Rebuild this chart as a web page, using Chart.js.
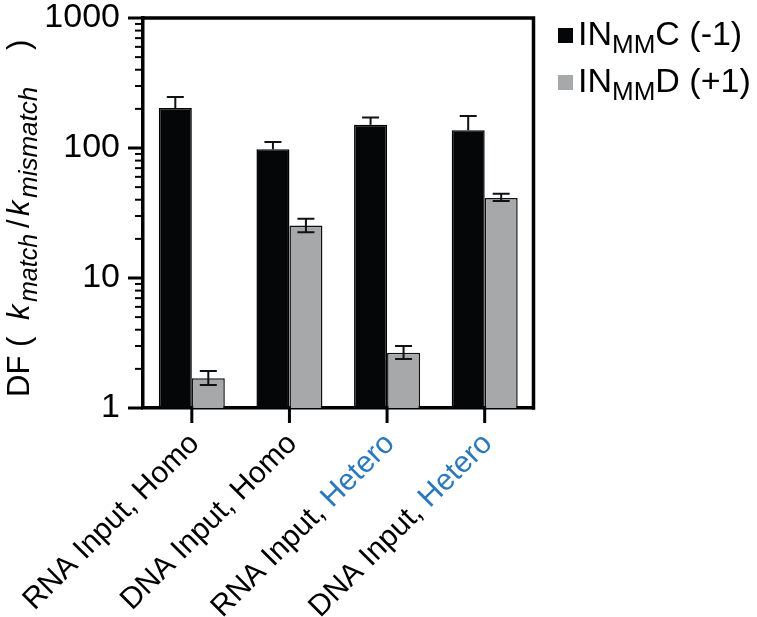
<!DOCTYPE html>
<html><head><meta charset="utf-8">
<script src="https://cdn.jsdelivr.net/npm/chart.js@4/dist/chart.umd.min.js"></script>
<style>html,body{margin:0;padding:0;background:#fff}#wrap{width:757px;height:617px;position:relative}</style>
</head><body><div id="wrap"><canvas id="c" width="757" height="617"></canvas></div>
<script>
// ---- data ----
const categoryPrefix = ["RNA Input, ", "DNA Input, ", "RNA Input, ", "DNA Input, "];
const categorySuffix = ["Homo", "Homo", "Hetero", "Hetero"];
const categories = categoryPrefix.map((p, i) => p + categorySuffix[i]);

const seriesC = ["IN", "MM", "C (-1)"];
const seriesD = ["IN", "MM", "D (+1)"];

const valuesC  = [203, 98, 151, 137];
const errHighC = [247, 111, 172, 176];

const valuesD  = [1.69, 25.3, 2.66, 41.2];
const errHighD = [1.93, 28.6, 3.0, 44.5];
const errLowD  = [1.50, 22.5, 2.38, 39.1];

const yTickLabels = [1, 10, 100, 1000];

const yTitleParts = ["DF (", "k", "match", "/", "k", "mismatch", ")"];

// ---- styles ----
const FONT = '"Liberation Sans", Arial, Helvetica, sans-serif';
const BLACK = '#050608', GRAY = '#a7a8aa', BLUE = '#2a78be';
// [font, baseline shift, offset along the title from its start]
const yTitleStyle = [
  ['31px ' + FONT, 0, 0],
  ['italic 31px ' + FONT, 0, 77],
  ['italic 25px ' + FONT, 8, 95],
  ['31px ' + FONT, 0, 169],
  ['italic 31px ' + FONT, 0, 181],
  ['italic 26px ' + FONT, 8, 199],
  ['31px ' + FONT, 0, 347]
];

const errorBars = {
  id: 'errorBars',
  afterDatasetsDraw(chart) {
    const ctx = chart.ctx, y = chart.scales.y;
    const sets = [[errHighC, null], [errHighD, errLowD]];
    sets.forEach(([hi, lo], di) => {
      const meta = chart.getDatasetMeta(di);
      meta.data.forEach((bar, i) => {
        const v = chart.data.datasets[di].data[i];
        const yt = y.getPixelForValue(hi[i]);
        const yb = y.getPixelForValue(lo ? lo[i] : v);
        ctx.save();
        ctx.strokeStyle = '#111'; ctx.lineWidth = 2;
        ctx.beginPath();
        ctx.moveTo(bar.x, yt); ctx.lineTo(bar.x, yb);
        ctx.moveTo(bar.x - 8.5, yt); ctx.lineTo(bar.x + 8.5, yt);
        if (lo) { ctx.moveTo(bar.x - 8.5, yb); ctx.lineTo(bar.x + 8.5, yb); }
        ctx.stroke();
        ctx.restore();
      });
    });
  }
};

const decor = {
  id: 'decor',
  afterDraw(chart) {
    const ctx = chart.ctx, a = chart.chartArea, y = chart.scales.y, x = chart.scales.x;
    ctx.save();
    ctx.strokeStyle = '#000'; ctx.lineCap = 'butt';
    // box top & right
    ctx.lineWidth = 3.5;
    ctx.beginPath();
    ctx.moveTo(a.left - 1.75, a.top); ctx.lineTo(a.right, a.top);
    ctx.moveTo(a.right, a.top - 1.75); ctx.lineTo(a.right, a.bottom + 1.75);
    ctx.stroke();
    // y ticks (major + minor)
    for (let e = 0; e < 3; e++) {
      for (let m = 1; m <= 9; m++) {
        const v = m * Math.pow(10, e);
        const py = y.getPixelForValue(v);
        ctx.lineWidth = m === 1 ? 3 : 2;
        ctx.beginPath();
        ctx.moveTo(a.left - (m === 1 ? 15 : 8), py); ctx.lineTo(a.left, py);
        ctx.stroke();
      }
    }
    const pt = y.getPixelForValue(1000);
    ctx.lineWidth = 3;
    ctx.beginPath(); ctx.moveTo(a.left - 15, pt); ctx.lineTo(a.left, pt); ctx.stroke();
    // x ticks
    ctx.lineWidth = 3;
    categories.forEach((c, i) => {
      const px = x.getPixelForValue(i);
      ctx.beginPath(); ctx.moveTo(px, a.bottom); ctx.lineTo(px, a.bottom + 15); ctx.stroke();
    });
    // x labels
    ctx.font = '30px ' + FONT;
    ctx.textBaseline = 'middle'; ctx.textAlign = 'right';
    categories.forEach((c, i) => {
      const px = x.getPixelForValue(i);
      ctx.save();
      ctx.translate(px + 3, a.bottom + 31);
      ctx.rotate(-Math.PI / 4);
      const sw = ctx.measureText(categorySuffix[i]).width;
      ctx.fillStyle = categorySuffix[i] === 'Hetero' ? BLUE : '#000';
      ctx.fillText(categorySuffix[i], 0, 0);
      ctx.fillStyle = '#000';
      ctx.fillText(categoryPrefix[i], -sw, 0);
      ctx.restore();
    });
    // y title
    ctx.save();
    ctx.translate(29, 397);
    ctx.rotate(-Math.PI / 2);
    ctx.textAlign = 'left'; ctx.textBaseline = 'alphabetic'; ctx.fillStyle = '#000';
    yTitleParts.forEach((t, k) => {
      const st = yTitleStyle[k];
      ctx.font = st[0]; ctx.fillText(t, st[2], st[1]);
    });
    ctx.restore();
    // legend
    const legend = [[seriesC, BLACK, 45], [seriesD, GRAY, 92]];
    legend.forEach(([s, col, base]) => {
      ctx.fillStyle = col;
      ctx.fillRect(558, base - 17, 15, 15);
      ctx.fillStyle = '#000'; ctx.textAlign = 'left'; ctx.textBaseline = 'alphabetic';
      let lx = 578;
      ctx.font = '34px ' + FONT; ctx.fillText(s[0], lx, base); lx += ctx.measureText(s[0]).width;
      ctx.font = '26px ' + FONT; ctx.fillText(s[1], lx, base + 8); lx += ctx.measureText(s[1]).width;
      ctx.font = '34px ' + FONT; ctx.fillText(s[2], lx, base);
    });
    ctx.restore();
  }
};

new Chart(document.getElementById('c'), {
  type: 'bar',
  data: {
    labels: categories,
    datasets: [
      { label: 'INMMC (-1)', data: valuesC, backgroundColor: BLACK, borderColor: '#000', borderWidth: 1.5,
        categoryPercentage: 0.676, barPercentage: 1 },
      { label: 'INMMD (+1)', data: valuesD, backgroundColor: GRAY, borderColor: '#111', borderWidth: 1.5,
        categoryPercentage: 0.676, barPercentage: 1 }
    ]
  },
  options: {
    responsive: false, animation: false, devicePixelRatio: 1,
    layout: { padding: { top: 18, right: 223.5, left: 0, bottom: 0 } },
    plugins: { legend: { display: false }, tooltip: { enabled: false } },
    scales: {
      x: {
        grid: { display: false },
        border: { display: true, color: '#000', width: 3.5 },
        ticks: { display: false },
        afterFit(s) { s.height = 209; s.paddingLeft = 0; s.paddingRight = 0; }
      },
      y: {
        type: 'logarithmic', min: 1, max: 1000,
        grid: { display: true, drawOnChartArea: false, drawTicks: false },
        border: { display: true, color: '#000', width: 3.5 },
        ticks: {
          autoSkip: false, padding: 23, color: '#000',
          font: { size: 34, family: FONT },
          callback: v => yTickLabels.includes(v) ? String(v) : ''
        },
        afterFit(s) { s.width = 143; s.paddingTop = 0; s.paddingBottom = 0; }
      }
    }
  },
  plugins: [errorBars, decor]
});
</script></body></html>
